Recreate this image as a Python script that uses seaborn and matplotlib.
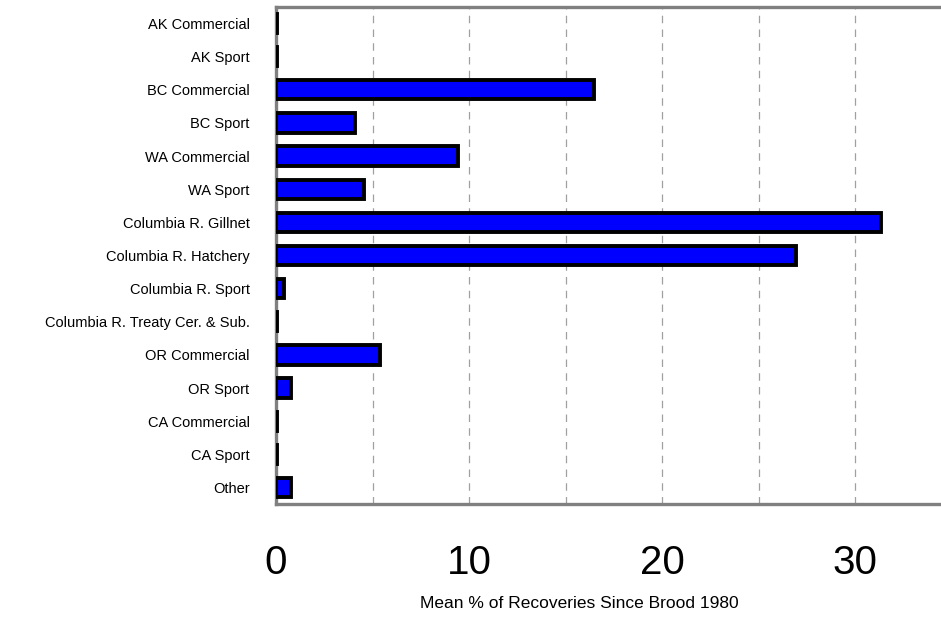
import numpy as np
import pandas as pd
import seaborn as sns
import matplotlib.pyplot as plt

categories = ['AK Commercial', 'AK Sport', 'BC Commercial', 'BC Sport', 'WA Commercial',
              'WA Sport', 'Columbia R. Gillnet', 'Columbia R. Hatchery', 'Columbia R. Sport',
              'Columbia R. Treaty Cer. & Sub.', 'OR Commercial', 'OR Sport', 'CA Commercial',
              'CA Sport', 'Other']
values = [0.05, 0.05, 16.45, 4.1, 9.4, 4.55, 31.3, 26.9, 0.4, 0.05, 5.4, 0.8, 0.05, 0.05, 0.8]
xticks = [0, 10, 20, 30]

df = pd.DataFrame({'fishery': categories, 'pct': values})

sns.set_style('white')
plt.rcParams['font.family'] = ['Liberation Sans', 'DejaVu Sans']
plt.rcParams['text.color'] = 'black'
plt.rcParams['xtick.labelcolor'] = 'black'
plt.rcParams['ytick.labelcolor'] = 'black'
plt.rcParams['axes.labelcolor'] = 'black'

fig = plt.figure(figsize=(9.41, 6.17), dpi=100)
ax = fig.add_axes([276 / 941, 1 - 504 / 617, (952 - 276) / 941, (504 - 7) / 617])

sns.barplot(data=df, y='fishery', x='pct', orient='h', color='#0000ff', saturation=1,
            edgecolor='black', linewidth=2.8, width=0.58, zorder=3, ax=ax)

ax.set_xlim(0, 35)
ax.set_xticks(np.arange(0, 36, 5))
ax.set_xticklabels([str(v) if v in xticks else '' for v in np.arange(0, 36, 5)], fontsize=29)
ax.xaxis.grid(True, color='#a0a0a0', linewidth=0.9, linestyle=(0, (6, 5)))
ax.set_axisbelow(True)

for s in ['top', 'bottom', 'left', 'right']:
    ax.spines[s].set_color('#808080')
    ax.spines[s].set_linewidth(2.4)
    ax.spines[s].set_zorder(2)

ax.tick_params(axis='x', direction='out', length=6, width=1, color='#808080', pad=23)
ax.tick_params(axis='y', length=0, pad=19, labelsize=10.5)

ax.set_ylabel('')
ax.set_xlabel('Mean % of Recoveries Since Brood 1980', fontsize=12.5)
ax.xaxis.set_label_coords(0.448, -0.185)

fig.savefig('out.png', dpi=100)
